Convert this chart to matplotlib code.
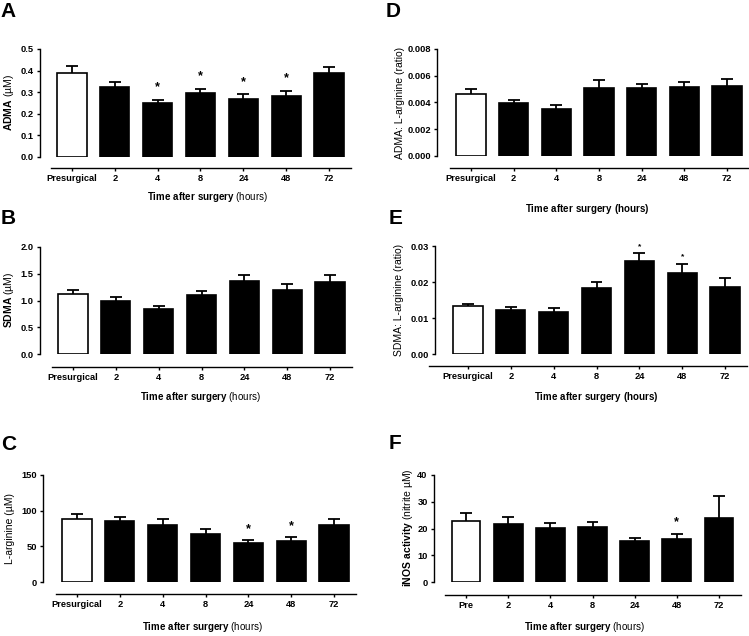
import matplotlib
matplotlib.use("Agg")
import matplotlib.pyplot as plt

plt.rcParams['font.family'] = ['Liberation Sans', 'DejaVu Sans']
plt.rcParams['mathtext.fontset'] = 'custom'
plt.rcParams['mathtext.rm'] = 'Liberation Sans'
plt.rcParams['mathtext.bf'] = 'Liberation Sans:bold'

# ------------------------------
# data
# ------------------------------
cats_long = ["Presurgical", "2", "4", "8", "24", "48", "72"]
cats_short = ["Pre", "2", "4", "8", "24", "48", "72"]

adma_mean = [0.390, 0.325, 0.250, 0.295, 0.270, 0.283, 0.387]
adma_top = [0.420, 0.345, 0.265, 0.315, 0.290, 0.305, 0.418]
adma_star = [4, 8, 24, 48]

sdma_mean = [1.12, 1.00, 0.84, 1.10, 1.36, 1.20, 1.34]
sdma_top = [1.20, 1.07, 0.90, 1.17, 1.47, 1.30, 1.48]
sdma_star = []

larg_mean = [89, 85, 80, 67, 55, 58, 80]
larg_top = [96, 91, 89, 74, 59, 63, 88]
larg_star = [24, 48]

adma_ratio_mean = [0.00460, 0.00395, 0.00350, 0.00508, 0.00508, 0.00513, 0.00527]
adma_ratio_top = [0.00500, 0.00422, 0.00385, 0.00570, 0.00542, 0.00555, 0.00573]
adma_ratio_star = []

sdma_ratio_mean = [0.0132, 0.0122, 0.0118, 0.0183, 0.0258, 0.0225, 0.0187]
sdma_ratio_top = [0.0140, 0.0130, 0.0128, 0.0199, 0.0280, 0.0250, 0.0210]
sdma_ratio_star = [24, 48]

inos_mean = [22.7, 21.8, 20.3, 20.6, 15.4, 15.9, 23.9]
inos_top = [25.8, 24.3, 22.1, 22.3, 16.6, 18.1, 32.0]
inos_star = [48]

W, H = 749, 636
fig = plt.figure(figsize=(W / 100, H / 100), dpi=100)


def px(x, y):
    return x / W, 1 - y / H


def panel(spec, labels, means, tops, stars, ylim, yticks, yfmt,
          ylabel, ylabel_pos, xlabel, xlabel_pos, letter, letter_pos,
          star_size=9, star_off=7, line_start=-0.5):
    left, top, bot, c0, c6, offset = spec
    sp = (c6 - c0) / 6.0
    xmin = (left - c0) / sp
    xmax = 6.52
    right = c0 + xmax * sp
    x0, y1 = px(left, top)
    x1, y0 = px(right, bot)
    ax = fig.add_axes([x0, y0, x1 - x0, y1 - y0])
    xs = list(range(len(labels)))
    colors = ['white'] + ['black'] * (len(labels) - 1)
    # upper error bars only
    ax.vlines(xs, means, tops, color='black', lw=1.3, zorder=1)
    ax.hlines(tops, [x - 0.14 for x in xs], [x + 0.14 for x in xs],
              color='black', lw=1.3, zorder=1)
    ax.bar(xs, means, width=0.68, color=colors, edgecolor='black',
           linewidth=1.2, zorder=2)
    for s in stars:
        i = labels.index(str(s))
        ax.annotate('*', (i, tops[i]), xytext=(0, star_off),
                    textcoords='offset points', ha='center', va='center',
                    fontsize=star_size, fontweight='bold')
    ax.set_xlim(xmin, xmax)
    ax.set_ylim(*ylim)
    ax.set_yticks(yticks)
    ax.set_yticklabels([yfmt.format(v) for v in yticks])
    ax.set_xticks(xs)
    ax.set_xticklabels(labels)
    for s in ['top', 'right']:
        ax.spines[s].set_visible(False)
    ax.spines['left'].set_linewidth(1.0)
    ax.spines['bottom'].set_linewidth(1.0)
    ax.spines['bottom'].set_position(('outward', offset * 0.72))
    ax.spines['bottom'].set_bounds(line_start, xmax)
    ax.tick_params(axis='both', direction='out', length=2.5, width=1.0,
                   labelsize=6.7, pad=2)
    for t in ax.get_xticklabels() + ax.get_yticklabels():
        t.set_fontweight('bold')
    ax.patch.set_visible(False)
    fig.text(*px(*ylabel_pos), ylabel, rotation=90, ha='center',
             va='center', fontsize=7.5)
    fig.text(*px(*xlabel_pos), xlabel, ha='center', va='center', fontsize=7)
    fig.text(*px(*letter_pos), letter, ha='left', va='top', fontsize=15,
             fontweight='bold')
    return ax


xl_mixed = r'$\mathbf{Time\ after\ surgery}$ (hours)'
xl_bold = r'$\mathbf{Time\ after\ surgery\ (hours)}$'

panel((40, 49, 157, 72, 329, 11), cats_long, adma_mean, adma_top, adma_star,
      (0, 0.5), [0, 0.1, 0.2, 0.3, 0.4, 0.5], "{:.1f}",
      r'$\mathbf{ADMA}$ (µM)', (9, 103), xl_mixed, (207, 197), 'A', (0, 2),
      star_off=9)

panel((40, 247, 354, 73, 330, 13), cats_long, sdma_mean, sdma_top, sdma_star,
      (0, 2.0), [0, 0.5, 1.0, 1.5, 2.0], "{:.1f}",
      r'$\mathbf{SDMA}$ (µM)', (9, 300), xl_mixed, (200, 397), 'B', (1, 209))

panel((43, 475, 582, 77, 334, 12), cats_long, larg_mean, larg_top, larg_star,
      (0, 150), [0, 50, 100, 150], "{:.0f}",
      'L-arginine (µM)', (10, 528), xl_mixed, (202, 627), 'C', (1, 435),
      star_off=8)

panel((437, 49, 156, 471, 727, 12), cats_long, adma_ratio_mean,
      adma_ratio_top, adma_ratio_star,
      (0, 0.008), [0, 0.002, 0.004, 0.006, 0.008], "{:.3f}",
      'ADMA: L-arginine (ratio)', (400, 103), xl_bold, (587, 209), 'D',
      (386, 2))

panel((435, 246, 354, 468, 725, 12), cats_long, sdma_ratio_mean,
      sdma_ratio_top, sdma_ratio_star,
      (0, 0.03), [0, 0.01, 0.02, 0.03], "{:.2f}",
      'SDMA: L-arginine (ratio)', (399, 300), xl_bold, (596, 397), 'E',
      (389, 209), star_size=6, star_off=5, line_start=-0.9)

panel((434, 475, 582, 466, 719, 13), cats_short, inos_mean, inos_top,
      inos_star, (0, 40), [0, 10, 20, 30, 40], "{:.0f}",
      r'$\mathbf{iNOS\ activity}$ (nitrite µM)', (408, 528), xl_mixed,
      (584, 627), 'F', (389, 434), star_off=8)

fig.savefig("out.png", dpi=100)
